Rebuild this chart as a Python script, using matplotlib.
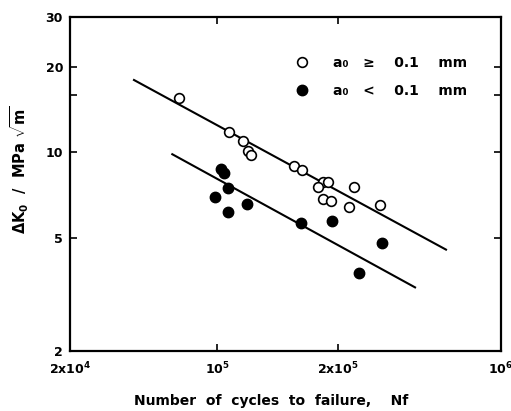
import numpy as np
import matplotlib
matplotlib.use("Agg")
import matplotlib.pyplot as plt
from matplotlib.ticker import NullLocator, FixedLocator
from matplotlib.lines import Line2D

plt.rcParams['font.family'] = ['DejaVu Sans']
plt.rcParams['font.weight'] = 'bold'
plt.rcParams['mathtext.fontset'] = 'custom'
plt.rcParams['mathtext.rm'] = 'DejaVu Sans:bold'
plt.rcParams['mathtext.it'] = 'DejaVu Sans:bold'
plt.rcParams['mathtext.bf'] = 'DejaVu Sans:bold'
plt.rcParams['mathtext.default'] = 'rm'

# ---- data ----
open_N = [6.60e4, 1.073e5, 1.16e5, 1.192e5, 1.215e5, 1.557e5, 1.630e5, 1.839e5,
          1.892e5, 1.787e5, 1.832e5, 1.918e5, 2.342e5, 2.229e5, 3.028e5]
open_K = [15.6, 11.8, 10.98, 10.15, 9.82, 8.96, 8.68, 7.89,
          7.89, 7.54, 6.88, 6.77, 7.54, 6.44, 6.52]
fill_N = [1.023e5, 1.043e5, 1.063e5, 9.81e4, 1.067e5, 1.190e5, 1.615e5, 1.936e5,
          3.097e5, 2.461e5]
fill_K = [8.77, 8.45, 7.48, 6.99, 6.17, 6.59, 5.63, 5.72, 4.79, 3.76]
upper_N = [4.03e4, 5.81e5]
upper_K = [18.0, 4.55]
lower_N = [6.13e4, 4.28e5]
lower_K = [9.86, 3.35]

x_ticks = [2e4, 1e5, 2e5, 1e6]
x_labels = [r'2x$10^4$', r'$10^5$', r'2x$10^5$', r'$10^6$']
y_ticks = [2, 5, 10, 16, 20, 30]
y_labels = ['2', '5', '10', '', '20', '30']
legend_labels = ['a\u2080   \u2265    0.1    mm', 'a\u2080   <    0.1    mm']

# ---- x scale as drawn in the original (piecewise logarithmic between labelled ticks) ----
XT = np.log10(np.array(x_ticks))
XP = np.array([0.0, 147.0, 268.0, 431.0])

def _pw(v, a, b):
    y = np.interp(v, a, b)
    lo = b[0] + (v - a[0]) * (b[1] - b[0]) / (a[1] - a[0])
    hi = b[-1] + (v - a[-1]) * (b[-1] - b[-2]) / (a[-1] - a[-2])
    y = np.where(v < a[0], lo, y)
    y = np.where(v > a[-1], hi, y)
    return y

def fwd(x):
    x = np.asarray(x, float)
    lx = np.log10(np.maximum(x, 1e-300))
    return _pw(lx, XT, XP)

def inv(p):
    p = np.asarray(p, float)
    return 10 ** _pw(p, XP, XT)

fig = plt.figure(figsize=(5.11, 4.11), dpi=100)
ax = fig.add_axes([70/511, 60/411, 431/511, 334/411])
ax.set_xscale('function', functions=(fwd, inv))
ax.set_yscale('log')
ax.set_xlim(2e4, 1e6)
ax.set_ylim(2, 30)

ax.plot(upper_N, upper_K, color='black', lw=1.5, zorder=2)
ax.plot(lower_N, lower_K, color='black', lw=1.5, zorder=2)
ax.plot(open_N, open_K, 'o', ms=7, mfc='white', mec='black', mew=1.2, ls='none', zorder=3)
ax.plot(fill_N, fill_K, 'o', ms=7.5, mfc='black', mec='black', mew=1.0, ls='none', zorder=3)

ax.xaxis.set_major_locator(FixedLocator(x_ticks))
ax.xaxis.set_minor_locator(NullLocator())
ax.set_xticklabels(x_labels)
ax.yaxis.set_major_locator(FixedLocator(y_ticks))
ax.yaxis.set_minor_locator(NullLocator())
ax.set_yticklabels(y_labels)

ax.tick_params(axis='both', which='major', direction='in', length=5, width=1.2,
               top=True, right=True, labelsize=9)
ax.tick_params(axis='x', pad=7)
ax.tick_params(axis='y', pad=5)
for s in ax.spines.values():
    s.set_linewidth(1.6)

ax.set_xlabel('Number  of  cycles  to  failure,    Nf', fontsize=10, fontweight='bold')
ax.xaxis.set_label_coords(0.466, -0.13)
ax.xaxis.label.set_va('top')
ax.set_ylabel(r'$\Delta$K$_0$  /  MPa $\sqrt{\mathrm{m}}$', fontsize=10.5, fontweight='bold')
ax.yaxis.set_label_coords(-0.09, 0.542)

h1 = Line2D([], [], marker='o', ms=7, mfc='white', mec='black', mew=1.2, ls='none')
h2 = Line2D([], [], marker='o', ms=7.5, mfc='black', mec='black', ls='none')
leg = ax.legend([h1, h2], legend_labels, loc='upper left', bbox_to_anchor=(0.51, 0.90),
                frameon=False, fontsize=10, handletextpad=1.7, labelspacing=1.0,
                borderaxespad=0, handlelength=1.0)
for t in leg.get_texts():
    t.set_fontweight('bold')

fig.savefig('out.png', dpi=100)
